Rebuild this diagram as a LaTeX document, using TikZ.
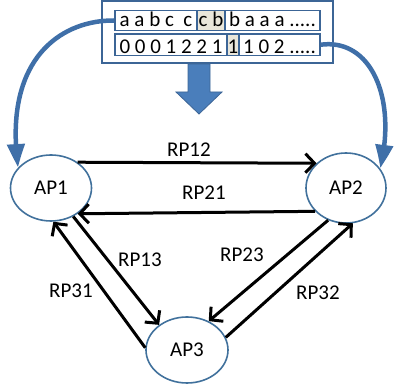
\documentclass[tikz,border=0pt]{standalone}
\usepackage{fontspec}
\setmainfont{Carlito}
\usetikzlibrary{arrows.meta,shapes.geometric,bending}
\definecolor{elblue}{HTML}{41719C}
\definecolor{boxblue}{HTML}{3C6596}
\definecolor{arrblue}{HTML}{3F6FA8}
\definecolor{fillblue}{HTML}{4A7EBB}
\definecolor{hl}{HTML}{E9E6DA}
\begin{document}
\begin{tikzpicture}[x=1pt,y=-1pt,
  bigfont/.style={font=\fontsize{21}{24}\selectfont},
  apnode/.style={ellipse,draw=elblue,line width=1.6pt,fill=white,inner sep=0pt,
    minimum width=81pt,minimum height=66pt,bigfont},
  cellA/.style={draw=boxblue,line width=1.6pt,inner sep=0pt,minimum height=20pt,
    bigfont,text height=15pt,text depth=2.6pt},
  cellB/.style={draw=boxblue,line width=1.6pt,inner sep=0pt,minimum height=21.5pt,
    bigfont,text height=17pt,text depth=0pt},
  lbl/.style={bigfont,inner sep=0pt},
  conn/.style={line width=3pt,-{Straight Barb[length=9pt,width=19pt]}},
  curv/.style={draw=arrblue,line width=4.5pt,-{Triangle[length=24pt,width=17pt,bend]}}
]
\useasboundingbox (0,0) rectangle (394,390);

% top box
\node[draw=boxblue,line width=2pt,fill=white,minimum width=231pt,minimum height=62pt,inner sep=0pt] (top) at (217.5,32) {};
\node[cellA,minimum width=82pt] (r1a) at (156,20.5) {a a b c\ \ c};
\node[cellA,minimum width=28pt,fill=hl] (r1b) at (211,20.5) {c b};
\node[cellA,minimum width=95pt] (r1c) at (272.5,20.5) {b a a a .....};
\node[cellB,minimum width=112pt] (r2a) at (171,44.7) {0 0 0 1 2 2 1};
\node[cellB,minimum width=12pt,fill=hl] (r2b) at (233,44.7) {1};
\node[cellB,minimum width=81pt] (r2c) at (279.5,44.7) {1 0 2 .....};

% down block arrow
\filldraw[fill=fillblue,draw=boxblue,line width=0.8pt]
  (188,64) -- (210,64) -- (210,92) -- (222,92) -- (199,114) -- (176,92) -- (188,92) -- cycle;

% AP nodes
\node[apnode] (ap1) at (51,188) {AP1};
\node[apnode,minimum width=80pt,minimum height=70pt] (ap2) at (346,188) {AP2};
\node[apnode,minimum width=82pt] (ap3) at (187,350) {AP3};

% connectors
\draw[conn] (ap1.44) -- (ap2.140);
\draw[conn] (ap2.217) -- (ap1.316);
\draw[conn] (ap1.308) -- (ap3.138);
\draw[conn] (ap3.177) -- (ap1.274);
\draw[conn] (ap2.241) -- (ap3.53);
\draw[conn] (ap3.18) -- (ap2.281);

% labels
\node[lbl] (l12) at (189,150) {RP12};
\node[lbl] (l21) at (204,193) {RP21};
\node[lbl] (l13) at (140,260) {RP13};
\node[lbl] (l31) at (71,291) {RP31};
\node[lbl] (l23) at (242,255) {RP23};
\node[lbl] (l32) at (318,293) {RP32};

% curved blue arrows
\draw[curv] (r1a.west) .. controls (60,20) and (3,60) .. (ap1.148);
\draw[curv] (r2c.east) .. controls (372,38) and (397,100) .. (ap2.30);
\end{tikzpicture}
\end{document}
